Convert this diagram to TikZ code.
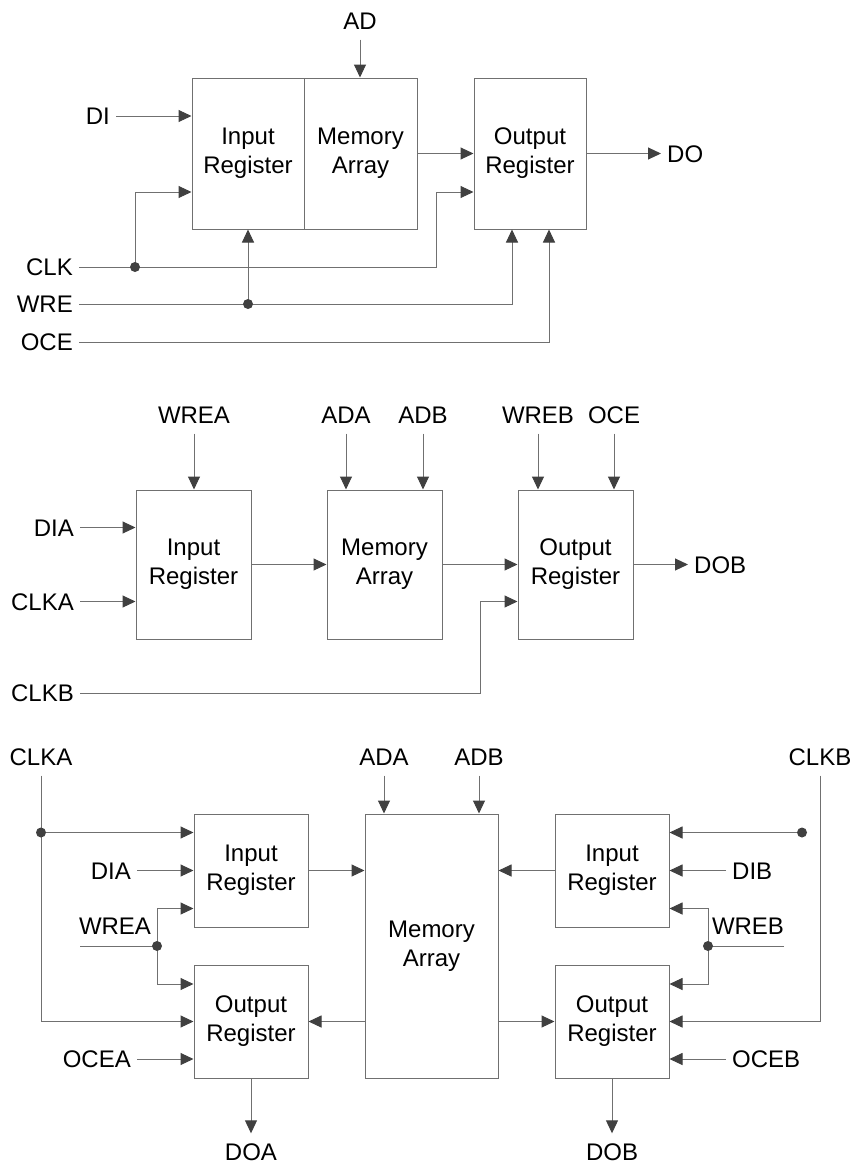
\documentclass[tikz,border=0pt]{standalone}
\usepackage{fontspec}
\setmainfont{Liberation Sans}
\usetikzlibrary{arrows.meta}
\definecolor{wiregray}{RGB}{112,112,112}
\definecolor{tipgray}{RGB}{64,64,64}
\tikzset{
  blk/.style={draw=wiregray, line width=1pt, align=center, inner sep=0pt,
    font=\fontsize{24}{29}\selectfont},
  sig/.style={inner xsep=6pt, inner ysep=10pt, text height=17pt, text depth=0pt,
    font=\fontsize{24}{29}\selectfont},
  wire/.style={draw=wiregray, line width=1pt},
  arr/.style={wire, -{Triangle[length=13pt,width=12pt,color=tipgray]}},
  dot/.style={circle, fill=tipgray, inner sep=0pt, minimum size=10pt},
}
\begin{document}
\begin{tikzpicture}[x=1pt, y=-1pt]
  \useasboundingbox (0,0) rectangle (851,1165);

  % single port
  \node[blk, minimum width=112pt, minimum height=151pt] (inreg1) at (248,153.5) {Input\\Register};
  \node[blk, minimum width=113pt, minimum height=151pt] (mem1) at (360.5,153.5) {Memory\\Array};
  \node[blk, minimum width=112pt, minimum height=151pt] (outreg1) at (530,153.5) {Output\\Register};
  \draw
    (360,21) node[sig] (ad){AD}
    (116,116) node[sig, anchor=east] (di){DI}
    (661,153.5) node[sig, anchor=west] (do){DO}
    (79,267) node[sig, anchor=east] (clk){CLK}
    (79,304) node[sig, anchor=east] (wre){WRE}
    (79,342) node[sig, anchor=east] (oce){OCE};
  \coordinate (clkj) at (135,267);
  \coordinate (wrej) at (248,304);
  \coordinate (clkbend) at (436,192);
  \begin{scope}[arr]
    \draw (ad.south) to (ad.south |- mem1.north);
    \draw (di.east) to (di.east -| inreg1.west);
    \draw (mem1.east) to (outreg1.west);
    \draw (outreg1.east) to (do.west);
    \draw (clk.east) -| (clkbend) -- (outreg1.west |- clkbend);
    \draw (clkj) |- (inreg1.west |- clkbend);
    \draw (wre.east) -| ([xshift=-18pt]outreg1.south);
    \draw (wrej) to (inreg1.south);
    \draw (oce.east) -| ([xshift=19pt]outreg1.south);
  \end{scope}
  \node[dot] at (clkj) {};
  \node[dot] at (wrej) {};

  % dual port, one way
  \node[blk, minimum width=115pt, minimum height=149pt] (inreg2) at (193.5,564.5) {Input\\Register};
  \node[blk, minimum width=115pt, minimum height=149pt] (mem2) at (384.5,564.5) {Memory\\Array};
  \node[blk, minimum width=115pt, minimum height=149pt] (outreg2) at (575.5,564.5) {Output\\Register};
  \draw
    (194,415) node[sig] (wrea){WREA}
    (346,415) node[sig] (ada){ADA}
    (423,415) node[sig] (adb){ADB}
    (538,415) node[sig] (wreb){WREB}
    (614,415) node[sig] (oce2){OCE}
    (80,527.5) node[sig, anchor=east] (dia){DIA}
    (80,601.5) node[sig, anchor=east] (clka){CLKA}
    (688,564.5) node[sig, anchor=west] (dob){DOB}
    (80,693) node[sig, anchor=east] (clkb){CLKB};
  \coordinate (clkbbend) at (480,601.5);
  \begin{scope}[arr]
    \draw (wrea.south) to (wrea.south |- inreg2.north);
    \draw (ada.south) to (ada.south |- mem2.north);
    \draw (adb.south) to (adb.south |- mem2.north);
    \draw (wreb.south) to (wreb.south |- outreg2.north);
    \draw (oce2.south) to (oce2.south |- outreg2.north);
    \draw (dia.east) to (dia.east -| inreg2.west);
    \draw (clka.east) to (clka.east -| inreg2.west);
    \draw (inreg2.east) to (mem2.west);
    \draw (mem2.east) to (outreg2.west);
    \draw (outreg2.east) to (dob.west);
    \draw (clkb.east) -| (clkbbend) -- (outreg2.west |- clkbbend);
  \end{scope}

  % dual port, two ways
  \node[blk, minimum width=114pt, minimum height=113pt] (inrega) at (251,870.5) {Input\\Register};
  \node[blk, minimum width=114pt, minimum height=113pt] (outrega) at (251,1021.5) {Output\\Register};
  \node[blk, minimum width=133pt, minimum height=264pt] (mem3) at (431.5,946) {Memory\\Array};
  \node[blk, minimum width=114pt, minimum height=113pt] (inregb) at (612,870.5) {Input\\Register};
  \node[blk, minimum width=114pt, minimum height=113pt] (outregb) at (612,1021.5) {Output\\Register};
  \draw
    (41,757) node[sig] (clka3){CLKA}
    (820,757) node[sig] (clkb3){CLKB}
    (384,757) node[sig] (ada3){ADA}
    (479,757) node[sig] (adb3){ADB}
    (137,870.5) node[sig, anchor=east] (dia3){DIA}
    (115,926) node[sig] (wrea3){WREA}
    (137,1059) node[sig, anchor=east] (ocea){OCEA}
    (726,870.5) node[sig, anchor=west] (dib){DIB}
    (748,926) node[sig] (wreb3){WREB}
    (726,1059) node[sig, anchor=west] (oceb){OCEB}
    (251,1152) node[sig] (doa){DOA}
    (612,1152) node[sig] (dob3){DOB};
  \coordinate (clkaj) at (41,832.5);
  \coordinate (clkbj) at (802,832.5);
  \coordinate (wreaj) at (157,946);
  \coordinate (wrebj) at (708,946);
  \coordinate (wreaend) at (80,946);
  \coordinate (wrebend) at (784,946);
  \begin{scope}[arr]
    \draw (clka3.south) |- (outrega.west);
    \draw (clkaj) to (clkaj -| inrega.west);
    \draw (dia3.east) to (inrega.west);
    \draw (wreaj) |- ([yshift=-38pt]inrega.west);
    \draw (wreaj) |- ([yshift=37.5pt]outrega.west);
    \draw (ocea.east) to (ocea.east -| outrega.west);
    \draw (outrega.south) to (doa.north);
    \draw (ada3.south) to (ada3.south |- mem3.north);
    \draw (adb3.south) to (adb3.south |- mem3.north);
    \draw (inrega.east) to (inrega.east -| mem3.west);
    \draw (mem3.west |- outrega.east) to (outrega.east);
    \draw (mem3.east |- outregb.west) to (outregb.west);
    \draw (inregb.west) to (inregb.west -| mem3.east);
    \draw (clkb3.south) |- (outregb.east);
    \draw (clkbj) to (clkbj -| inregb.east);
    \draw (dib.west) to (inregb.east);
    \draw (wrebj) |- ([yshift=-38pt]inregb.east);
    \draw (wrebj) |- ([yshift=37.5pt]outregb.east);
    \draw (oceb.west) to (oceb.west -| outregb.east);
    \draw (outregb.south) to (dob3.north);
  \end{scope}
  \draw[wire] (wreaend) to (wreaj);
  \draw[wire] (wrebend) to (wrebj);
  \node[dot] at (clkaj) {};
  \node[dot] at (clkbj) {};
  \node[dot] at (wreaj) {};
  \node[dot] at (wrebj) {};
\end{tikzpicture}
\end{document}
